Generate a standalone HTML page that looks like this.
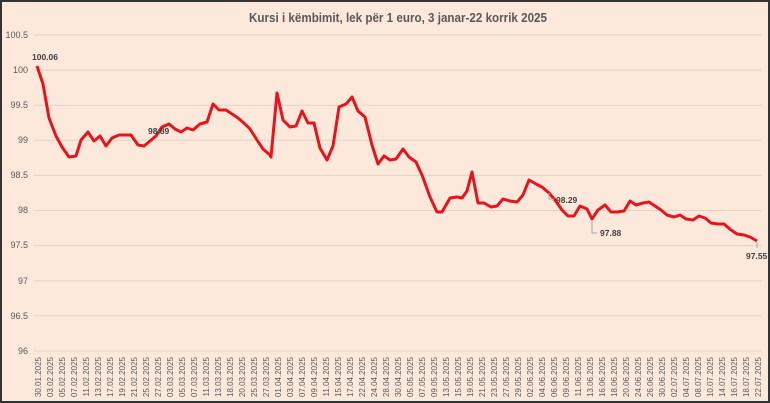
<!DOCTYPE html>
<html><head><meta charset="utf-8"><style>
html,body{margin:0;padding:0;background:#fce9dc;}
svg{display:block;font-family:"Liberation Sans",sans-serif;}
</style></head><body>
<svg width="770" height="403" viewBox="0 0 770 403" xmlns="http://www.w3.org/2000/svg">
<rect x="0" y="0" width="770" height="403" fill="#fce9dc"/>
<rect x="1" y="1" width="768" height="401" fill="none" stroke="#333" stroke-width="2"/>
<text x="398" y="22" text-anchor="middle" font-size="13" font-weight="bold" fill="#595959" textLength="298" lengthAdjust="spacingAndGlyphs">Kursi i këmbimit, lek për 1 euro, 3 janar-22 korrik 2025</text>
<g stroke="#e3d3c8" stroke-width="1">
<line x1="34" x2="762" y1="35" y2="35"/><line x1="34" x2="762" y1="70.1" y2="70.1"/>
<line x1="34" x2="762" y1="105.2" y2="105.2"/><line x1="34" x2="762" y1="140.3" y2="140.3"/>
<line x1="34" x2="762" y1="175.4" y2="175.4"/><line x1="34" x2="762" y1="210.5" y2="210.5"/>
<line x1="34" x2="762" y1="245.6" y2="245.6"/><line x1="34" x2="762" y1="280.7" y2="280.7"/>
<line x1="34" x2="762" y1="315.8" y2="315.8"/><line x1="34" x2="762" y1="351" y2="351"/>
</g>
<g font-size="9" fill="#595959" text-anchor="end">
<text x="28" y="38">100.5</text><text x="28" y="73">100</text><text x="28" y="108">99.5</text>
<text x="28" y="143">99</text><text x="28" y="178">98.5</text><text x="28" y="213">98</text>
<text x="28" y="248">97.5</text><text x="28" y="284">97</text><text x="28" y="319">96.5</text>
<text x="28" y="354">96</text>
</g>
<g font-size="8" fill="#595959" text-anchor="end">
<text transform="translate(41,357) rotate(-90)">30.01.2025</text>
<text transform="translate(53,357) rotate(-90)">03.02.2025</text>
<text transform="translate(65,357) rotate(-90)">05.02.2025</text>
<text transform="translate(77,357) rotate(-90)">07.02.2025</text>
<text transform="translate(89,357) rotate(-90)">11.02.2025</text>
<text transform="translate(101,357) rotate(-90)">13.02.2025</text>
<text transform="translate(113,357) rotate(-90)">17.02.2025</text>
<text transform="translate(125,357) rotate(-90)">19.02.2025</text>
<text transform="translate(137,357) rotate(-90)">21.02.2025</text>
<text transform="translate(149,357) rotate(-90)">25.02.2025</text>
<text transform="translate(161,357) rotate(-90)">27.02.2025</text>
<text transform="translate(173,357) rotate(-90)">03.03.2025</text>
<text transform="translate(185,357) rotate(-90)">05.03.2025</text>
<text transform="translate(197,357) rotate(-90)">07.03.2025</text>
<text transform="translate(209,357) rotate(-90)">11.03.2025</text>
<text transform="translate(221,357) rotate(-90)">13.03.2025</text>
<text transform="translate(233,357) rotate(-90)">18.03.2025</text>
<text transform="translate(245,357) rotate(-90)">20.03.2025</text>
<text transform="translate(257,357) rotate(-90)">25.03.2025</text>
<text transform="translate(269,357) rotate(-90)">27.03.2025</text>
<text transform="translate(281,357) rotate(-90)">01.04.2025</text>
<text transform="translate(293,357) rotate(-90)">03.04.2025</text>
<text transform="translate(305,357) rotate(-90)">07.04.2025</text>
<text transform="translate(317,357) rotate(-90)">09.04.2025</text>
<text transform="translate(329,357) rotate(-90)">11.04.2025</text>
<text transform="translate(341,357) rotate(-90)">15.04.2025</text>
<text transform="translate(353,357) rotate(-90)">17.04.2025</text>
<text transform="translate(365,357) rotate(-90)">22.04.2025</text>
<text transform="translate(377,357) rotate(-90)">24.04.2025</text>
<text transform="translate(389,357) rotate(-90)">28.04.2025</text>
<text transform="translate(401,357) rotate(-90)">30.04.2025</text>
<text transform="translate(413,357) rotate(-90)">05.05.2025</text>
<text transform="translate(425,357) rotate(-90)">07.05.2025</text>
<text transform="translate(437,357) rotate(-90)">09.05.2025</text>
<text transform="translate(449,357) rotate(-90)">13.05.2025</text>
<text transform="translate(461,357) rotate(-90)">15.05.2025</text>
<text transform="translate(473,357) rotate(-90)">19.05.2025</text>
<text transform="translate(485,357) rotate(-90)">21.05.2025</text>
<text transform="translate(497,357) rotate(-90)">23.05.2025</text>
<text transform="translate(509,357) rotate(-90)">27.05.2025</text>
<text transform="translate(521,357) rotate(-90)">29.05.2025</text>
<text transform="translate(533,357) rotate(-90)">02.06.2025</text>
<text transform="translate(545,357) rotate(-90)">04.06.2025</text>
<text transform="translate(557,357) rotate(-90)">06.06.2025</text>
<text transform="translate(569,357) rotate(-90)">09.06.2025</text>
<text transform="translate(581,357) rotate(-90)">11.06.2025</text>
<text transform="translate(593,357) rotate(-90)">13.06.2025</text>
<text transform="translate(605,357) rotate(-90)">16.06.2025</text>
<text transform="translate(617,357) rotate(-90)">18.06.2025</text>
<text transform="translate(629,357) rotate(-90)">20.06.2025</text>
<text transform="translate(641,357) rotate(-90)">24.06.2025</text>
<text transform="translate(653,357) rotate(-90)">26.06.2025</text>
<text transform="translate(665,357) rotate(-90)">30.06.2025</text>
<text transform="translate(677,357) rotate(-90)">02.07.2025</text>
<text transform="translate(689,357) rotate(-90)">04.07.2025</text>
<text transform="translate(701,357) rotate(-90)">08.07.2025</text>
<text transform="translate(713,357) rotate(-90)">10.07.2025</text>
<text transform="translate(725,357) rotate(-90)">14.07.2025</text>
<text transform="translate(737,357) rotate(-90)">16.07.2025</text>
<text transform="translate(749,357) rotate(-90)">18.07.2025</text>
<text transform="translate(761,357) rotate(-90)">22.07.2025</text>
</g>
<polyline fill="none" stroke="#e8141c" stroke-width="3" stroke-linejoin="round" points="37,66 43,84 49,118 56,136 62,147 69,157 76,156 81,140 88,132 94,141 100,136 106,146 112,138 119,135 125,135 131,135 138,145 144,146 150,141 156,136 162,127 169,124 175,129 181,132 187,128 193,130 200,124 207,122 213,104 219,110 226,110 232,114 238,118 245,124 250,129 257,140 263,149 270,155 271,157 277,93 283,120 290,127 296,126 302,111 308,123 314,123 320,148 327,160 333,146 339,107 346,104 352,97 358,111 365,117 372,145 378,164 384,156 390,160 396,159 403,149 409,157 416,162 422,175 430,197 437,212 442,212 446,205 450,198 457,197 462,198 467,191 472,172 478,203 484,203 491,207 497,206 503,199 510,201 517,202 523,195 529,180 536,184 542,187 549,193 555,200 562,210 568,216 574,216 580,206 587,209 592,219 598,210 605,205 611,212 617,212 624,211 630,201 636,205 643,203 649,202 655,206 661,210 667,215 674,217 680,215 686,219 693,220 699,216 705,218 711,223 718,224 724,224 731,230 737,234 744,235 750,237 757,241"/>
<g stroke="#a6a6a6" stroke-width="1" fill="none">
<polyline points="549,193 549,199 554,199"/>
<polyline points="592,220 592,233 597,233"/>
<line x1="757" y1="242" x2="757" y2="248"/>
</g>
<g font-size="8.5" font-weight="bold" fill="#404040">
<text x="32" y="60">100.06</text>
<text x="148" y="134">98.89</text>
<text x="556" y="203">98.29</text>
<text x="600" y="236">97.88</text>
<text x="746" y="259">97.55</text>
</g>
</svg>
</body></html>
